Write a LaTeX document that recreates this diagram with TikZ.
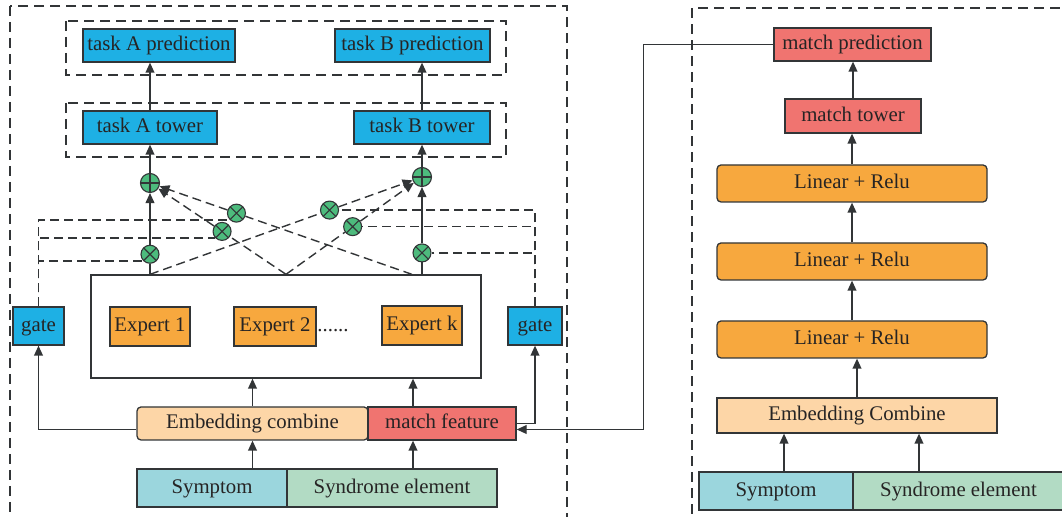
\documentclass[tikz,border=0pt]{standalone}
\usepackage{fontspec}
\setmainfont{Liberation Serif}
\usepackage{xcolor}
\usepackage{tikz}
\usetikzlibrary{arrows.meta}
\usetikzlibrary{calc}
\definecolor{linegray}{RGB}{50,53,55}
\definecolor{txt}{RGB}{38,36,36}
\definecolor{taskblue}{RGB}{30,176,228}
\definecolor{exporange}{RGB}{247,168,62}
\definecolor{peach}{RGB}{253,214,167}
\definecolor{matchred}{RGB}{240,116,112}
\definecolor{symteal}{RGB}{155,214,221}
\definecolor{synmint}{RGB}{178,219,196}
\definecolor{gatefree}{RGB}{77,187,125}

\begin{document}
\begin{tikzpicture}
  [
    x=0.5pt, y=-0.5pt,
    >={Triangle[length=5pt,width=4.4pt]},
    lbl/.style={text=txt, inner sep=0pt, text height=7.4pt, text depth=2.2pt,
      font=\fontsize{10.4}{12}\selectfont},
    cell/.style={lbl, draw=linegray, line width=0.65pt, minimum height=16.5pt},
    tbox/.style={cell, fill=taskblue},
    ebox/.style={cell, fill=exporange, minimum width=40pt, minimum height=19.5pt},
    pbox/.style={cell, fill=peach},
    rbox/.style={cell, fill=matchred},
    sbox/.style={cell, fill=symteal, minimum height=19pt},
    ybox/.style={cell, fill=synmint, minimum height=19pt},
    ln/.style={draw=linegray, line width=0.65pt},
    dln/.style={draw=linegray, line width=0.7pt, dash pattern=on 4.5pt off 2.5pt},
    grp/.style={draw=linegray, line width=0.7pt, dash pattern=on 5pt off 3pt},
    plus/.style={circle, draw=linegray, line width=0.55pt, fill=gatefree,
      minimum size=9.5pt, inner sep=0pt,
      path picture={\draw[linegray, line width=0.55pt]
        (path picture bounding box.north) -- (path picture bounding box.south)
        (path picture bounding box.west) -- (path picture bounding box.east);}},
    mult/.style={circle, draw=linegray, line width=0.55pt, fill=gatefree,
      minimum size=9pt, inner sep=0pt,
      path picture={\draw[linegray, line width=0.55pt]
        (path picture bounding box.north west) -- (path picture bounding box.south east)
        (path picture bounding box.south west) -- (path picture bounding box.north east);}}
  ]
  \useasboundingbox (0,0) rectangle (1062,517);

  % outer frames
  \draw[grp] (10,6) rectangle (567,530);
  \draw[grp] (692,530) |- (1070,8);
  \draw[grp] (66,21) rectangle (506,75);
  \draw[grp] (66,103) rectangle (506,157);

  % multi-task part
  \node (predA)  at (159,45.5)   [tbox, minimum width=76pt]   {task A prediction};
  \node (predB)  at (412.5,45.5) [tbox, minimum width=77.5pt] {task B prediction};
  \node (towerA) at (150,127.5)  [tbox, minimum width=67pt]   {task A tower};
  \node (towerB) at (422,127.5)  [tbox, minimum width=68pt]   {task B tower};

  \node (plusA) at (150,183) [plus] {};
  \node (plusB) at (422,177) [plus] {};

  \node (expbox) at (286,326.5) [ln, minimum width=195pt, minimum height=51.5pt] {};
  \node (exp1) at (150,326.5) [ebox]                   {Expert 1};
  \node (exp2) at (275,326.5) [ebox, minimum width=41pt] {Expert 2};
  \node (dots) at (333,326.5) [lbl]                    {......};
  \node (expk) at (422,325.5) [ebox]                   {Expert k};

  \node (gateL) at (38.5,326) [tbox, minimum width=25.5pt, minimum height=19pt] {gate};
  \node (gateR) at (535,326)  [tbox, minimum width=27pt, minimum height=19pt]   {gate};

  \node (embL)   at (252.5,423.5) [pbox, rounded corners=2pt, minimum width=115.5pt] {Embedding combine};
  \node (matchF) at (442,423.5)   [rbox, minimum width=74pt]  {match feature};
  \node (symL)   at (212,488)     [sbox, minimum width=75pt]  {Symptom};
  \node (synL)   at (392,488)     [ybox, minimum width=105pt] {Syndrome element};

  \coordinate (e1) at (exp1 |- expbox.north);
  \coordinate (ec) at (expbox.north);
  \coordinate (eB) at (expk |- expbox.north);
  \coordinate (ek) at ([xshift=-5pt]eB);

  \node (mA1) at ($(e1)!0.22!(plusA)$) [mult] {};
  \node (mA2) at ($(ec)!0.47!(plusA)$) [mult] {};
  \node (mA3) at ($(ek)!0.67!(plusA)$) [mult] {};
  \node (mB1) at ($(e1)!0.66!(plusB)$) [mult] {};
  \node (mB2) at ($(ec)!0.49!(plusB)$) [mult] {};
  \node (mB3) at ($(eB)!0.22!(plusB)$) [mult] {};

  \draw[ln,->] (towerA.north) -- (towerA.north |- predA.south);
  \draw[ln,->] (towerB.north) -- (towerB.north |- predB.south);
  \draw[ln,->] (plusA) -- (towerA);
  \draw[ln,->] (plusB) -- (towerB);

  \draw[ln,->]  (e1) -- (mA1) -- (plusA);
  \draw[ln,->]  (eB) -- (mB3) -- (plusB);
  \draw[dln,->] (ec) -- (mA2) -- (plusA);
  \draw[dln,->] (ek) -- (mA3) -- (plusA);
  \draw[dln,->] (e1) -- (mB1) -- (plusB);
  \draw[dln,->] (ec) -- (mB2) -- (plusB);

  % gate weights
  \draw[dln] (gateL.north) |- (mA3.south west);
  \draw[dln] (gateL.north) |- (mA2.south west);
  \draw[dln] (gateL.north) |- (mA1.south west);
  \draw[dln] (gateR.north) |- (mB1.east);
  \draw[dln] (gateR.north) |- (mB2.east);
  \draw[dln] (gateR.north) |- (mB3.east);

  \coordinate (fa) at ([xshift=-14.5pt]matchF.north);
  \coordinate (fb) at ([xshift=-14.5pt]matchF.south);
  \draw[ln,->] (embL.north) -- (embL.north |- expbox.south);
  \draw[ln,->] (fa) -- (fa |- expbox.south);
  \draw[ln,->] (embL.south |- symL.north) -- (embL.south);
  \draw[ln,->] (fb |- synL.north) -- (fb);
  \draw[ln,->] ([yshift=-3pt]embL.west) -| (gateL.south);
  \draw[ln,->] (matchF.east) -| (gateR.south);

  % match part
  \node (mPred)  at (852.5,44.5) [rbox, minimum width=78.5pt] {match prediction};
  \node (mTower) at (853,116)    [rbox, minimum width=68pt, minimum height=17pt] {match tower};
  \node (lr1) at (852,183.5) [cell, fill=exporange, rounded corners=2pt, minimum width=135pt, minimum height=18.5pt] {Linear + Relu};
  \node (lr2) at (852,261.5) [cell, fill=exporange, rounded corners=2pt, minimum width=135pt, minimum height=18.5pt] {Linear + Relu};
  \node (lr3) at (852,339.5) [cell, fill=exporange, rounded corners=2pt, minimum width=135pt, minimum height=18.5pt] {Linear + Relu};
  \node (embR) at (857,415.5)  [pbox, minimum width=140pt, minimum height=17.5pt] {Embedding Combine};
  \node (symR) at (776,491)    [sbox, minimum width=77pt]    {Symptom};
  \node (synR) at (958.5,491)  [ybox, minimum width=105.5pt] {Syndrome element};

  \coordinate (sa) at ([xshift=4pt]symR.north);
  \coordinate (sb) at ([xshift=-19.75pt]synR.north);
  \draw[ln,->] (sa) -- (sa |- embR.south);
  \draw[ln,->] (sb) -- (sb |- embR.south);
  \draw[ln,->] (embR.north) -- (embR.north |- lr3.south);
  \draw[ln,->] (lr3) -- (lr2);
  \draw[ln,->] (lr2) -- (lr1);
  \draw[ln,->] (lr1.north) -- (lr1.north |- mTower.south);
  \draw[ln,->] (mTower.north) -- (mTower.north |- mPred.south);

  \draw[ln,->] (mPred.west) -- ++(-130,0) |- ([yshift=-3pt]matchF.east);
\end{tikzpicture}
\end{document}
